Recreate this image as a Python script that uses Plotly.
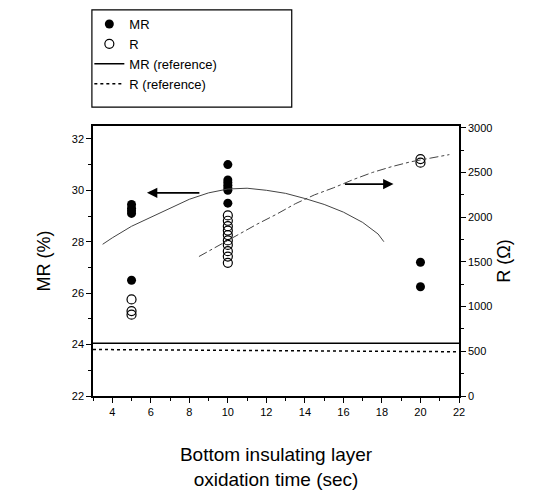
import plotly.graph_objects as go

# ---- data ----
mr_x = [5, 5, 5, 5, 5,
        10, 10, 10, 10, 10, 10, 10,
        20, 20]
mr_y = [29.45, 29.3, 29.2, 29.1, 26.5,
        31.0, 30.4, 30.3, 30.2, 30.1, 30.0, 29.5,
        27.2, 26.25]

r_x = [5, 5, 5,
       10, 10, 10, 10, 10, 10, 10, 10, 10, 10,
       20, 20]
r_y = [1080, 950, 910,
       2020, 1960, 1900, 1850, 1800, 1740, 1690, 1620, 1560, 1490,
       2650, 2610]

mr_fit_x = [3.5, 4, 5, 6, 7, 8, 9, 10, 11, 12, 13, 14, 15, 16, 17, 17.8, 18.1]
mr_fit_y = [27.9, 28.15, 28.6, 28.95, 29.3, 29.65, 29.9, 30.05, 30.08, 30.0,
            29.88, 29.68, 29.45, 29.15, 28.75, 28.3, 28.0]

r_fit_x = [8.5, 9.5, 10.5, 11.5, 12.5, 13.5, 14.5, 15.5, 16.5, 17.5, 18.5, 19.5, 20.5, 21.5]
r_fit_y = [1560, 1680, 1800, 1920, 2030, 2150, 2250, 2330, 2420, 2500, 2565, 2620, 2660, 2700]

ref_x = [3, 22]
mr_ref = [24.05, 24.05]
r_ref = [520, 495]

x_ticks = [4, 6, 8, 10, 12, 14, 16, 18, 20, 22]
mr_ticks = [22, 24, 26, 28, 30, 32]
r_ticks = [0, 500, 1000, 1500, 2000, 2500, 3000]

FONT = "Liberation Sans, Arial, sans-serif"

fig = go.Figure()

fig.add_trace(go.Scatter(x=mr_x, y=mr_y, mode="markers", name="MR",
                         marker=dict(symbol="circle", size=9, color="black")))
fig.add_trace(go.Scatter(x=r_x, y=r_y, mode="markers", name="R", yaxis="y2",
                         marker=dict(symbol="circle-open", size=9, color="black",
                                     line=dict(width=1.2, color="black"))))
fig.add_trace(go.Scatter(x=ref_x, y=mr_ref, mode="lines", name="MR (reference)",
                         line=dict(color="black", width=1.5)))
fig.add_trace(go.Scatter(x=ref_x, y=r_ref, mode="lines", name="R (reference)", yaxis="y2",
                         line=dict(color="black", width=1.5, dash="dot")))
# trend curves
fig.add_trace(go.Scatter(x=mr_fit_x, y=mr_fit_y, mode="lines", showlegend=False,
                         line=dict(color="#444", width=1)))
fig.add_trace(go.Scatter(x=r_fit_x, y=r_fit_y, mode="lines", showlegend=False, yaxis="y2",
                         line=dict(color="#444", width=1, dash="dashdot")))

# arrows
fig.add_annotation(x=5.8, y=29.9, ax=8.6, ay=29.9, xref="x", yref="y",
                   axref="x", ayref="y", showarrow=True, arrowhead=2,
                   arrowsize=1.3, arrowwidth=1.6, arrowcolor="black", text="")
fig.add_annotation(x=18.6, y=2370, ax=16.0, ay=2370, xref="x", yref="y2",
                   axref="x", ayref="y2", showarrow=True, arrowhead=2,
                   arrowsize=1.3, arrowwidth=1.6, arrowcolor="black", text="")

# legend box
fig.add_shape(type="rect", xref="paper", yref="paper",
              x0=-0.003, x1=0.543, y0=1.07, y1=1.43,
              line=dict(color="black", width=1.2), fillcolor="rgba(0,0,0,0)")

fig.update_layout(
    width=539, height=497,
    margin=dict(l=85, r=88, t=118, b=109, autoexpand=False),
    plot_bgcolor="white", paper_bgcolor="white",
    font=dict(family=FONT, color="black"),
    showlegend=True,
    legend=dict(x=-0.01, y=0.998, xref="paper", yref="container",
                xanchor="left", yanchor="top",
                bgcolor="rgba(0,0,0,0)", borderwidth=0,
                font=dict(size=13, family=FONT), tracegroupgap=0,
                itemwidth=30),
    xaxis=dict(range=[3, 22], tickvals=x_ticks, ticktext=[str(v) for v in x_ticks],
               ticks="outside", ticklen=5, tickwidth=1, tickcolor="black",
               minor=dict(dtick=1, tick0=3, ticks="outside", ticklen=3, tickcolor="black"),
               showline=True, linecolor="black", linewidth=1.5, mirror=True,
               showgrid=False, zeroline=False, tickfont=dict(size=11),
               title=dict(text="Bottom insulating layer<br>oxidation time (sec)",
                          font=dict(size=19), standoff=31)),
    yaxis=dict(range=[22, 32.5], tickvals=mr_ticks,
               ticks="outside", ticklen=5, tickwidth=1, tickcolor="black",
               minor=dict(dtick=1, tick0=22, ticks="outside", ticklen=3, tickcolor="black"),
               showline=True, linecolor="black", linewidth=1.5,
               showgrid=False, zeroline=False, tickfont=dict(size=11),
               title=dict(text="MR (%)", font=dict(size=18), standoff=16)),
    yaxis2=dict(range=[0, 3020], tickvals=r_ticks, overlaying="y", side="right",
                ticks="outside", ticklen=5, tickwidth=1, tickcolor="black",
                minor=dict(dtick=250, tick0=0, ticks="outside", ticklen=3, tickcolor="black"),
                showline=True, linecolor="black", linewidth=1.5,
                showgrid=False, zeroline=False, tickfont=dict(size=11),
                title=dict(text="R (Ω)", font=dict(size=18), standoff=6)),
)

fig.write_html("out.html")
